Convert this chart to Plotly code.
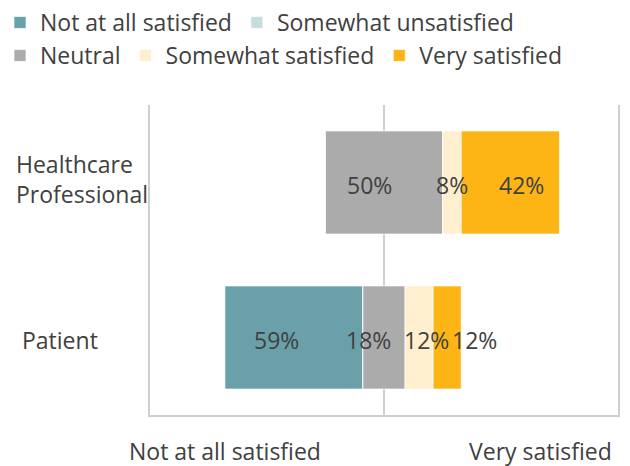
import plotly.graph_objects as go

# ---- data ----
groups = ["Patient", "Healthcare Professional"]
group_labels = ["Patient", "Healthcare<br>Professional"]
not_at_all = [59, 0]
somewhat_unsat = [0, 0]
neutral = [18, 50]
somewhat_sat = [12, 8]
very_sat = [12, 42]
series_names = ["Not at all satisfied", "Somewhat unsatisfied", "Neutral",
                "Somewhat satisfied", "Very satisfied"]
axis_left_label = "Not at all satisfied"
axis_right_label = "Very satisfied"

# ---- style ----
colors = ["#6AA0A9", "#C9DDE0", "#ABABAB", "#FFEFCF", "#FDB515"]
text_color = "#404040"
grid_color = "#CFCFCF"
FONT = "Open Sans"
FS = 23
PL, PR, PT, PB = 150, 12, 105, 51
PW = 630 - PL - PR
PH = 466 - PT - PB
# pixel nudges of value labels (per series, per group), to mimic the original layout
label_xshift = {
    "Not at all satisfied": [-17, 0],
    "Neutral": [-16, -15],
    "Somewhat satisfied": [7, 0],
    "Very satisfied": [27, 11],
}
group_label_px = [20, 14]  # pixel x of left-aligned category labels

# ---- compute diverging bases ----
half_n = [n / 2 for n in neutral]
base_unsat = [-h - u for h, u in zip(half_n, somewhat_unsat)]
base_not = [b - n for b, n in zip(base_unsat, not_at_all)]
base_neutral = [-h for h in half_n]
base_sat = list(half_n)
base_very = [h + s for h, s in zip(half_n, somewhat_sat)]

values = [not_at_all, somewhat_unsat, neutral, somewhat_sat, very_sat]
bases = [base_not, base_unsat, base_neutral, base_sat, base_very]
legends = ["legend", "legend", "legend2", "legend2", "legend2"]

fig = go.Figure()
for name, vals, base, col, lg in zip(series_names, values, bases, colors, legends):
    fig.add_trace(go.Bar(
        y=groups, x=vals, base=base, orientation="h", name=name,
        marker=dict(color=col, line=dict(color="rgba(255,255,255,0.7)", width=1)),
        width=0.665, legend=lg, hoverinfo="skip",
    ))

annotations = []
for name, vals, base in zip(series_names, values, bases):
    if name not in label_xshift:
        continue
    for i, g in enumerate(groups):
        if vals[i] <= 0:
            continue
        annotations.append(dict(
            x=base[i] + vals[i] / 2, y=g, xref="x", yref="y",
            text=f"{vals[i]}%", showarrow=False,
            xshift=label_xshift[name][i], yshift=-2,
            font=dict(family=FONT, size=FS, color=text_color),
        ))

for i, g in enumerate(groups):
    annotations.append(dict(
        x=(group_label_px[i] - PL) / PW, xref="paper", y=g, yref="y",
        text=group_labels[i], showarrow=False, xanchor="left", align="left",
        yshift=4 if i == 1 else -2,
        font=dict(family=FONT, size=FS, color=text_color),
    ))

# axis end labels
for lab, px in [(axis_left_label, 225), (axis_right_label, 540)]:
    annotations.append(dict(x=(px - PL) / PW, y=(415 - 451) / PH, xref="paper", yref="paper",
                            text=lab, showarrow=False, xanchor="center", yanchor="middle",
                            font=dict(family=FONT, size=FS, color=text_color)))

fig.update_layout(
    width=630, height=466,
    margin=dict(l=PL, r=PR, t=PT, b=PB, autoexpand=False),
    paper_bgcolor="white", plot_bgcolor="white",
    barmode="overlay",
    font=dict(family=FONT, size=FS, color=text_color),
    showlegend=True,
    legend=dict(orientation="h", x=(0 - PL) / PW, y=1 + (PT - 1) / PH,
                xanchor="left", yanchor="top",
                font=dict(family=FONT, size=FS, color=text_color),
                bgcolor="rgba(0,0,0,0)", itemclick=False),
    legend2=dict(orientation="h", x=(0 - PL) / PW, y=1 + (PT - 34) / PH,
                 xanchor="left", yanchor="top",
                 font=dict(family=FONT, size=FS, color=text_color),
                 bgcolor="rgba(0,0,0,0)", itemclick=False),
    xaxis=dict(range=[-100, 100], showticklabels=False, ticks="",
               showgrid=False, zeroline=True, zerolinecolor=grid_color,
               zerolinewidth=2, showline=True, linecolor=grid_color,
               linewidth=2, fixedrange=True),
    yaxis=dict(range=[-0.5, 1.5], showticklabels=False, ticks="",
               showgrid=False, zeroline=False, showline=True, mirror=True,
               linecolor=grid_color, linewidth=2, fixedrange=True),
    annotations=annotations,
)

fig.write_html("out.html", config={"displayModeBar": False},
               post_script="document.body.style.margin='0';")
